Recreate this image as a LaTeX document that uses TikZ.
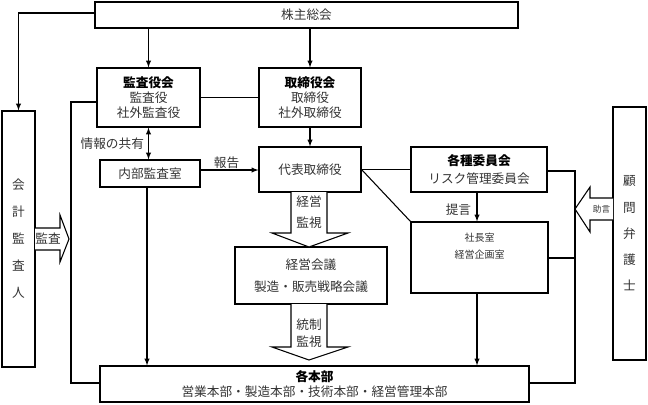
\documentclass[tikz,border=0pt]{standalone}
\usepackage{fontspec}
\setmainfont{Noto Sans CJK JP}
\usetikzlibrary{calc}
\tikzset{
	box/.style={draw, line width=0.8pt, align=center, inner sep=0pt, text=black!80},
	lbl/.style={text=black!80, inner sep=1pt},
	blockarrow/.style={draw, line width=0.8pt, fill=white},
}
\newcommand{\hd}[1]{{\bfseries\color{black}#1}}

\begin{document}
\begin{tikzpicture}[x=0.75pt, y=-0.75pt, line width=0.8pt, font=\fontsize{9.5}{11.5}\selectfont]
			\useasboundingbox (0,0) rectangle (648,404);
			\node[box, minimum width=317.25pt, minimum height=19.5pt] (gm) at (306.5,15) {株主総会};
			\node[box, minimum width=77.25pt, minimum height=44.25pt] (kansa) at (148.5,97.5) {\hd{監査役会}\\監査役\\社外監査役};
			\node[box, minimum width=76.5pt, minimum height=44.25pt] (torishimari) at (310,97.5) {\hd{取締役会}\\取締役\\社外取締役};
			\node[box, minimum width=75pt, minimum height=20.25pt] (naibu) at (150,173.5) {内部監査室};
			\node[box, minimum width=76.5pt, minimum height=33.75pt] (daihyo) at (310,169.5) {代表取締役};
			\node[box, minimum width=114pt, minimum height=42.75pt, font=\fontsize{9.5}{16.5}\selectfont] (keiei) at (311,275.5) {経営会議\\製造・販売戦略会議};
			\node[box, minimum width=321.75pt, minimum height=27pt] (honbu) at (314.5,384) {\hd{各本部}\\営業本部・製造本部・技術本部・経営管理本部};
			\node[box, minimum width=102pt, minimum height=33.75pt, font=\fontsize{9.5}{13.5}\selectfont] (iinkai) at (479,169.5) {\hd{各種委員会}\\リスク管理委員会};
			\node[box, minimum width=102.75pt, minimum height=53.25pt] (shacho) at (479.5,257.5) {};
			\node[lbl, align=center, font=\fontsize{7.5}{12.75}\selectfont] (shachotxt) at (479.5,246.5) {社長室\\経営企画室};
			\node[box, minimum width=24.75pt, minimum height=192pt, font=\fontsize{9.5}{20.25}\selectfont] (kaikei) at (18.5,239) {会\\計\\監\\査\\人};
			\node[box, minimum width=24.75pt, minimum height=189.75pt, font=\fontsize{9.5}{19.7}\selectfont] (komon) at (629.5,233.5) {顧\\問\\弁\\護\\士};

			\draw[-latex] (gm.west |- 0,13) -| (kaikei.north);
			\draw[-latex] (gm.south -| kansa.north) -- (kansa.north);
			\draw[-latex] (gm.south -| torishimari.north) -- (torishimari.north);
			\draw (kansa.east) -- (torishimari.west);
			\draw[latex-latex] (kansa.south) -- (kansa.south |- naibu.north) node[lbl, pos=0.5, left=2pt] (kyoyu) {情報の共有};
			\draw[-latex] (naibu.east |- 0,170) -- (daihyo.west |- 0,170) node[lbl, pos=0.45, above] (hokoku) {報告};
			\draw[-latex] (torishimari.south) -- (daihyo.north);
			\draw[-latex] (naibu.south -| 147,0) -- (honbu.north -| 147,0);
			\draw (kansa.west |- 0,102) -- (71,102) -- (71,383) -- (honbu.west |- 0,383);
			\draw (daihyo.east) -- (iinkai.west);
			\draw (daihyo.east) -- (shacho.north west);
			\draw[-latex] (iinkai.south -| 477,0) -- (shacho.north -| 477,0) node[lbl, pos=0.6, left=3pt] (teigen) {提言};
			\draw[-latex] (shacho.south -| 477,0) -- (honbu.north -| 477,0);
			\draw (iinkai.east |- 0,171) -- (575,171) -- (575,383) -- (honbu.east |- 0,383);
			\draw (shacho.east |- 0,258) -- (575,258);

			\draw[blockarrow] (291,192) -- (291,233) -- (272,233) -- (309,247) -- (348,233) -- (327,233) -- (327,192);
			\node[lbl, align=center, font=\fontsize{9.5}{16}\selectfont] (kanshi1) at (309,212) {経営\\監視};
			\draw[blockarrow] (291,304) -- (291,347) -- (272,347) -- (309,360) -- (348,347) -- (327,347) -- (327,304);
			\node[lbl, align=center, font=\fontsize{9.5}{13}\selectfont] (kanshi2) at (309,333) {統制\\監視};
			\draw[blockarrow] (35,228) -- (60,228) -- (60,215) -- (69,239) -- (60,262) -- (60,250) -- (35,250);
			\node[lbl] (kansaarr) at (48,239) {監査};
			\draw[blockarrow] (613,198) -- (590,198) -- (590,187) -- (575,209) -- (590,232) -- (590,220) -- (613,220);
			\node[lbl, font=\fontsize{6.5}{8}\selectfont] (jogen) at (601.5,209) {助言};
		\end{tikzpicture}
\end{document}
